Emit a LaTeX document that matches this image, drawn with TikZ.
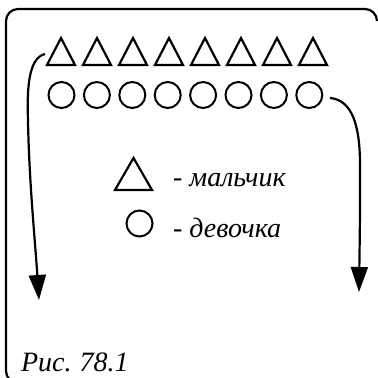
\documentclass[tikz,border=0pt]{standalone}
\usepackage{fontspec}
\setmainfont{Liberation Serif}
\usetikzlibrary{arrows.meta}
\begin{document}
\begin{tikzpicture}[x=1pt,y=-1pt, line width=2.2pt,
  tri/.style={line join=miter},
  lbl/.style={font=\itshape\fontsize{28}{32}\selectfont, anchor=base west, inner sep=0pt},
  girl/.style={draw, circle, minimum size=26pt, inner sep=0pt, line width=2pt},
  arr/.style={-{Triangle[length=25pt,width=17pt]}, line width=2.2pt}]
\clip (0,0) rectangle (378,378);
\draw[rounded corners=12pt] (20,383) -- (6,383) -- (6,9) -- (377,9) -- (377,21);
\foreach \i in {1,...,8} {
  \coordinate (t\i) at ({61+36*(\i-1)},52);
  \draw[tri, shift={(t\i)}] (-14,13) -- (14,13) -- (0,-14) -- cycle;
  \node[girl] (c\i) at ({61.5+35.4*(\i-1)},95) {};
}
\coordinate (lt) at (133.5,174);
\draw[tri, shift={(lt)}] (-18.5,16) -- (18.5,16) -- (0,-16) -- cycle;
\node[girl] (lc) at (139.5,223.5) {};
\node[lbl] (boy) at (172,186) {- мальчик};
\node[lbl] (girltxt) at (172,237) {- девочка};
\node[lbl] (cap) at (20,371) {Рис.\hspace{8pt}78.1};
\coordinate (ls) at (45,54);
\coordinate (le) at (39,300);
\draw[arr] (ls) .. controls (28,58) and (27,90) .. (28,120) .. controls (29,180) and (35,240) .. (le);
\coordinate (rs) at (330,98);
\coordinate (re) at (359,292);
\draw[arr] (rs) .. controls (352,100) and (360,125) .. (360,165) .. controls (360,220) .. (re);
\end{tikzpicture}
\end{document}
